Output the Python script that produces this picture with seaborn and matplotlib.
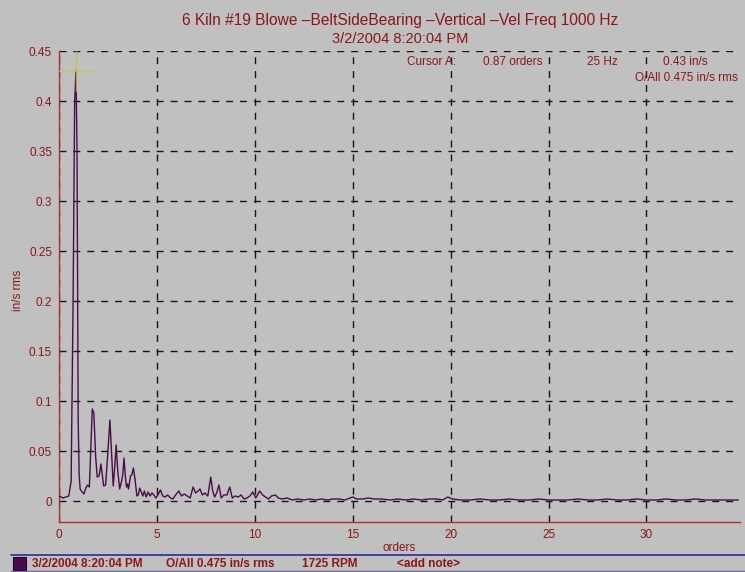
"""Velocity spectrum (orders) for 6 Kiln #19 blower, belt-side bearing, vertical."""
import matplotlib
matplotlib.use("Agg")
import matplotlib.pyplot as plt
from matplotlib.lines import Line2D
from matplotlib.patches import Rectangle
from matplotlib.ticker import MultipleLocator
import pandas as pd
import seaborn as sns

# spectrum (orders, in/s rms)
orders = [
    0.00, 0.10, 0.20, 0.35, 0.50, 0.62, 0.72, 0.80, 0.87, 0.92, 0.98, 1.03,
    1.08, 1.18, 1.27, 1.37, 1.46, 1.55, 1.62, 1.70, 1.78, 1.87, 1.95, 2.05,
    2.14, 2.22, 2.28, 2.38, 2.50, 2.60, 2.68, 2.77, 2.85, 2.92, 3.00, 3.10,
    3.20, 3.26, 3.32, 3.40, 3.45, 3.50, 3.55, 3.65, 3.72, 3.80, 3.88, 3.98,
    4.05, 4.12, 4.20, 4.28, 4.36, 4.45, 4.55, 4.65, 4.75, 4.85, 4.95, 5.05,
    5.18, 5.30, 5.42, 5.55, 5.70, 5.82, 5.95, 6.12, 6.25, 6.40, 6.55, 6.70,
    6.85, 6.98, 7.10, 7.20, 7.32, 7.45, 7.60, 7.75, 7.85, 7.95, 8.05, 8.17,
    8.28, 8.42, 8.58, 8.72, 8.85, 9.00, 9.15, 9.30, 9.45, 9.60, 9.75, 9.90,
    10.05, 10.25, 10.40, 10.55, 10.70, 10.85, 11.05, 11.20, 11.40, 11.65,
    11.90, 12.20, 12.50, 12.80, 13.10, 13.40, 13.70, 14.00, 14.30, 14.60,
    15.00, 15.20, 15.50, 15.80, 16.10, 16.50, 16.90, 17.30, 17.70, 18.10,
    18.50, 18.90, 19.30, 19.60, 19.85, 20.10, 20.50, 21.00, 21.50, 22.00,
    22.50, 23.00, 23.50, 24.00, 24.50, 25.00, 25.50, 26.00, 26.50, 27.00,
    27.50, 28.00, 28.50, 29.00, 29.50, 30.00, 30.50, 31.00, 31.50, 32.00,
    32.50, 33.00, 33.50, 34.00, 34.70,
]
vel = [
    0.005, 0.004, 0.003, 0.004, 0.005, 0.020, 0.200, 0.400, 0.430, 0.350, 0.080, 0.026,
    0.012, 0.009, 0.007, 0.013, 0.016, 0.014, 0.050, 0.092, 0.088, 0.045, 0.024, 0.025,
    0.037, 0.025, 0.015, 0.016, 0.050, 0.081, 0.050, 0.015, 0.035, 0.056, 0.030, 0.012,
    0.020, 0.027, 0.043, 0.022, 0.014, 0.017, 0.012, 0.025, 0.026, 0.033, 0.022, 0.005,
    0.006, 0.013, 0.009, 0.005, 0.010, 0.004, 0.009, 0.005, 0.008, 0.006, 0.003, 0.006,
    0.011, 0.005, 0.004, 0.006, 0.003, 0.002, 0.006, 0.010, 0.005, 0.007, 0.005, 0.003,
    0.014, 0.008, 0.010, 0.012, 0.006, 0.008, 0.005, 0.024, 0.010, 0.004, 0.008, 0.016,
    0.003, 0.006, 0.006, 0.014, 0.003, 0.005, 0.004, 0.006, 0.002, 0.003, 0.005, 0.009,
    0.003, 0.010, 0.006, 0.004, 0.002, 0.005, 0.006, 0.003, 0.002, 0.003,
    0.001, 0.002, 0.001, 0.002, 0.001, 0.002, 0.001, 0.002, 0.002, 0.001,
    0.004, 0.002, 0.002, 0.003, 0.002, 0.002, 0.001, 0.002, 0.001, 0.002,
    0.001, 0.002, 0.002, 0.001, 0.004, 0.002, 0.001, 0.001, 0.002, 0.001,
    0.001, 0.002, 0.001, 0.001, 0.002, 0.001, 0.001, 0.001, 0.002, 0.001,
    0.001, 0.002, 0.001, 0.001, 0.002, 0.001, 0.001, 0.002, 0.001, 0.001,
    0.002, 0.001, 0.001, 0.001, 0.001,
]

title_lines = ["6 Kiln #19 Blowe \u2013BeltSideBearing \u2013Vertical \u2013Vel Freq 1000 Hz",
               "3/2/2004 8:20:04 PM"]
cursor_x = 0.87
cursor_y = 0.43
cursor_texts = ["Cursor A:", "0.87 orders", "25 Hz", "0.43 in/s"]
overall_text = "O/All 0.475 in/s rms"
status_texts = ["3/2/2004 8:20:04 PM", "O/All 0.475 in/s rms", "1725 RPM", "<add note>"]

BG = "#c0c0c0"
RED = "#8c1616"
LINE = "#4a0c4a"
BLUE = "#2a2aa0"

sns.set_theme(style="white")
plt.rcParams["font.family"] = ["Liberation Sans", "DejaVu Sans"]

fig = plt.figure(figsize=(7.45, 5.72), dpi=100, facecolor=BG)
ax = fig.add_axes([59 / 745, 1 - 522 / 572, 681 / 745, 471 / 572])
ax.set_facecolor(BG)

df = pd.DataFrame({"orders": orders, "vel": vel})
sns.lineplot(data=df, x="orders", y="vel", ax=ax, color=LINE, lw=1.0, zorder=3)

# cursor cross
ax.plot([cursor_x, cursor_x], [0.41, 0.45], color="#c8c020", lw=1.0, alpha=0.8, zorder=4)
ax.plot([0, 1.8], [cursor_y, cursor_y], color="#c8c840", lw=0.9, alpha=0.8, zorder=4)

ax.set_xlim(0, 34.78)
ax.set_ylim(-0.021, 0.45)
ax.xaxis.set_major_locator(MultipleLocator(5))
ax.xaxis.set_minor_locator(MultipleLocator(1.25))
ax.yaxis.set_minor_locator(MultipleLocator(0.0125))
ax.set_yticks([0, 0.05, 0.1, 0.15, 0.2, 0.25, 0.3, 0.35, 0.4, 0.45])
ax.set_yticklabels(["0", "0.05", "0.1", "0.15", "0.2", "0.25", "0.3", "0.35", "0.4", "0.45"])

ax.grid(True, which="major", color="#151515", lw=1.0, ls=(0, (5, 5)), zorder=1)
for side in ("top", "right"):
    ax.spines[side].set_visible(False)
for side in ("left", "bottom"):
    ax.spines[side].set_color("#b03030")
    ax.spines[side].set_linewidth(1.0)

ax.tick_params(axis="both", which="major", direction="in", length=4, color="#202020",
               labelcolor=RED, labelsize=8.5, pad=5)
ax.tick_params(axis="both", which="minor", direction="out", length=3, color="#808080")
ax.tick_params(axis="x", which="minor", direction="in")
ax.set_xlabel("")
ax.set_ylabel("")

fig.text(400 / 745, 1 - 20 / 572, title_lines[0], color=RED, fontsize=11.2, ha="center", va="center")
fig.text(400 / 745, 1 - 39 / 572, title_lines[1], color=RED, fontsize=10.5, ha="center", va="center")
fig.text(18 / 745, 1 - 290 / 572, "in/s rms", color=RED, fontsize=8.5, rotation=90,
         ha="center", va="center")
fig.text(399 / 745, 1 - 548 / 572, "orders", color=RED, fontsize=8.5, ha="center", va="center")

# cursor readout
for txt, cx in zip(cursor_texts, [432, 513, 602, 685]):
    fig.text(cx / 745, 1 - 62 / 572, txt, color=RED, fontsize=8.5, ha="center", va="center")
fig.text(738 / 745, 1 - 78 / 572, overall_text, color=RED, fontsize=8.5, ha="right", va="center")

# status bar
fig.add_artist(Line2D([11 / 745, 1], [1 - 555 / 572, 1 - 555 / 572], color=BLUE, lw=1.2))
fig.add_artist(Line2D([11 / 745, 1], [1 - 571 / 572, 1 - 571 / 572], color="#6a6ab0", lw=1.0))
fig.add_artist(Rectangle((13 / 745, 1 - 570 / 572), 13 / 745, 13 / 572,
                         facecolor="#4a0a4a", edgecolor="#200020", lw=0.8))
for txt, sx in zip(status_texts, [32, 166, 302, 397]):
    fig.text(sx / 745, 1 - 564 / 572, txt, color=RED, fontsize=8.5, fontweight="bold",
             ha="left", va="center")

fig.savefig("out.png", dpi=100, facecolor=BG)
